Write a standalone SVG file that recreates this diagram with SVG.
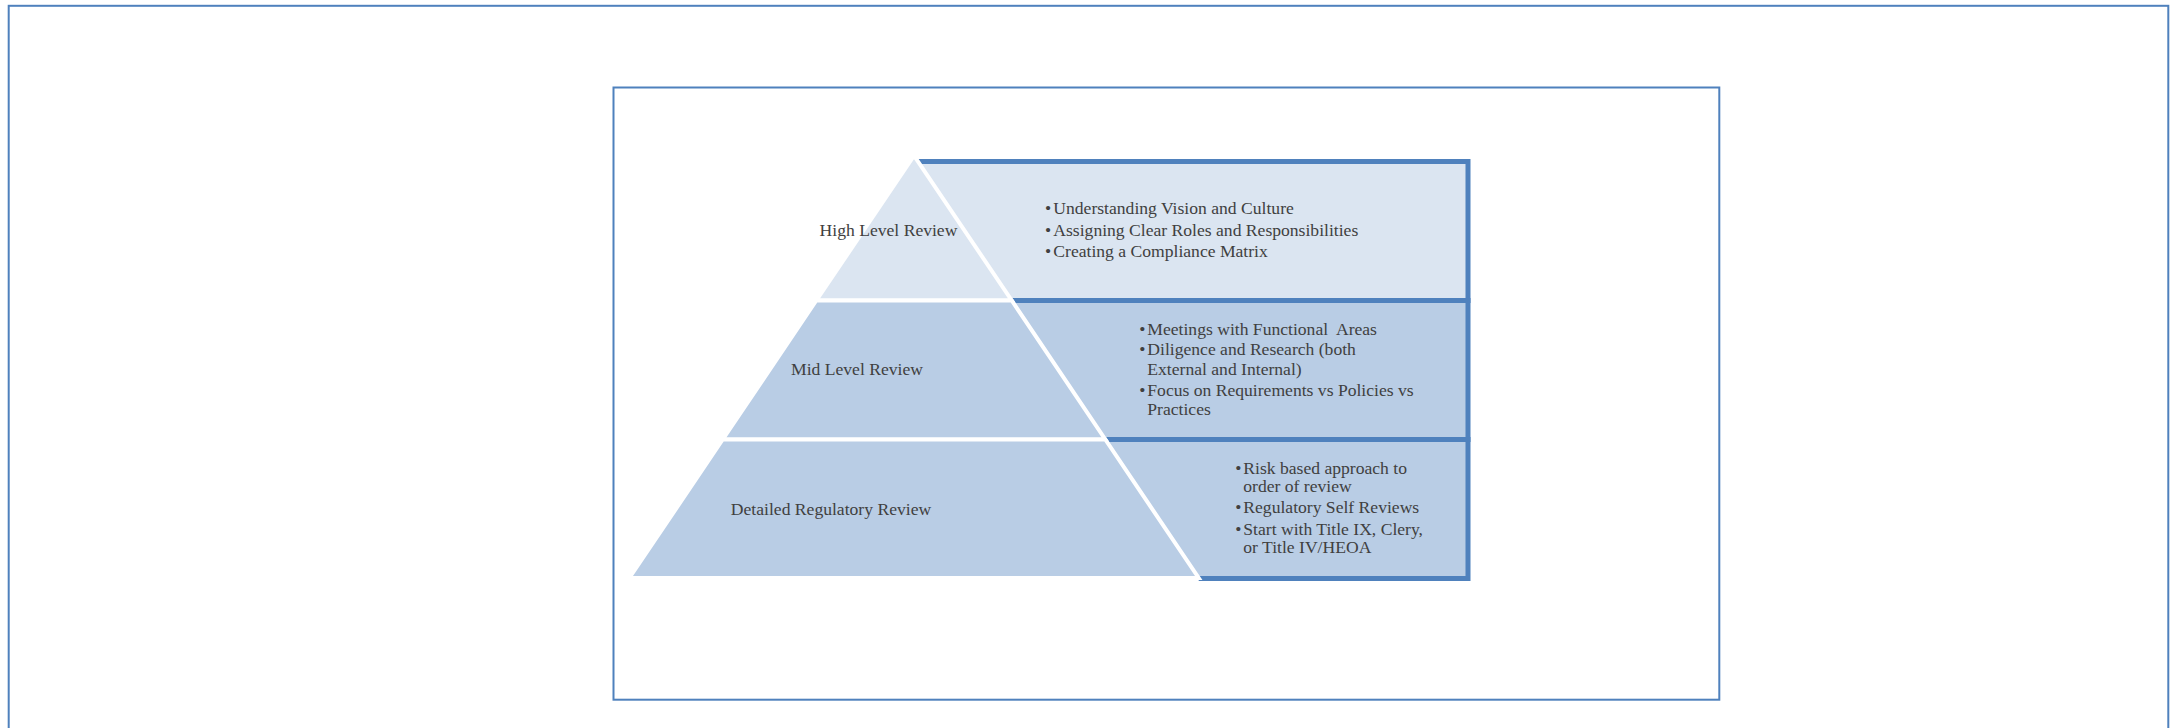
<svg xmlns="http://www.w3.org/2000/svg" width="2170" height="728" viewBox="0 0 2170 728">
  <style>
    .frame { fill: none; stroke: #4F81BD; stroke-width: 2; }
    .border { fill: none; stroke: #4F81BD; stroke-width: 5; stroke-linejoin: miter; }
    .light { fill: #DBE5F1; }
    .mid { fill: #B9CDE5; }
    .tier { stroke: #FFFFFF; stroke-width: 4; stroke-linejoin: miter; }
    .t { font-family: "Liberation Serif", "Times New Roman", serif; font-size: 17.6px; fill: #404040; }
    .c { text-anchor: middle; }
  </style>
  <rect width="2170" height="728" fill="#FFFFFF"/>
  <g id="outer-frame">
    <rect class="frame" x="8.7" y="5.8" width="2159.6" height="740"/>
  </g>
  <g id="inner-frame">
    <rect class="frame" x="613.5" y="87.5" width="1105.8" height="612.2" stroke-width="1.8"/>
  </g>
  <g id="connectors"></g>
  <g id="box-high">
    <polygon class="light" points="914,161.5 1468,161.5 1468,300.5 1011.7,300.5"/>
    <path class="border" d="M914,161.5 H1468 V300.5 H1011.7"/>
    <text class="t" x="1045" y="214">•</text><text class="t" x="1053.3" y="214">Understanding Vision and Culture</text>
    <text class="t" x="1045" y="235.7">•</text><text class="t" x="1053.3" y="235.7">Assigning Clear Roles and Responsibilities</text>
    <text class="t" x="1045" y="257.3">•</text><text class="t" x="1053.3" y="257.3">Creating a Compliance Matrix</text>
  </g>
  <g id="box-mid">
    <polygon class="mid" points="1011.7,300.5 1468,300.5 1468,439.5 1105.3,439.5"/>
    <path class="border" d="M1011.7,300.5 H1468 V439.5 H1105.3"/>
    <text class="t" x="1139.2" y="335">•</text><text class="t" x="1147.3" y="335" xml:space="preserve">Meetings with Functional  Areas</text>
    <text class="t" x="1139.2" y="355.3">•</text><text class="t" x="1147.3" y="355.3">Diligence and Research (both</text>
    <text class="t" x="1147.3" y="375.3">External and Internal)</text>
    <text class="t" x="1139.2" y="395.7">•</text><text class="t" x="1147.3" y="395.7">Focus on Requirements vs Policies vs</text>
    <text class="t" x="1147.3" y="415">Practices</text>
  </g>
  <g id="box-detailed">
    <polygon class="mid" points="1105.3,439.5 1468,439.5 1468,578.5 1198.7,578.5"/>
    <path class="border" d="M1105.3,439.5 H1468 V578.5 H1198.7"/>
    <text class="t" x="1235.3" y="474">•</text><text class="t" x="1243.3" y="474">Risk based approach to</text>
    <text class="t" x="1243.3" y="491.7">order of review</text>
    <text class="t" x="1235.3" y="513.3">•</text><text class="t" x="1243.3" y="513.3">Regulatory Self Reviews</text>
    <text class="t" x="1235.3" y="535">•</text><text class="t" x="1243.3" y="535">Start with Title IX, Clery,</text>
    <text class="t" x="1243.3" y="553.3">or Title IV/HEOA</text>
  </g>
  <g id="tier-high">
    <polygon class="tier light" points="914,155.6 1011.7,300.5 816.3,300.5"/>
    <text class="t c" x="888.5" y="236">High Level Review</text>
  </g>
  <g id="tier-mid">
    <polygon class="tier mid" points="816.3,300.5 1011.7,300.5 1105.3,439.5 722.7,439.5"/>
    <text class="t c" x="857" y="374.5">Mid Level Review</text>
  </g>
  <g id="tier-detailed">
    <polygon class="tier mid" points="722.7,439.5 1105.3,439.5 1198.7,578 629.3,578"/>
    <text class="t c" x="831" y="514.5">Detailed Regulatory Review</text>
  </g>
</svg>
